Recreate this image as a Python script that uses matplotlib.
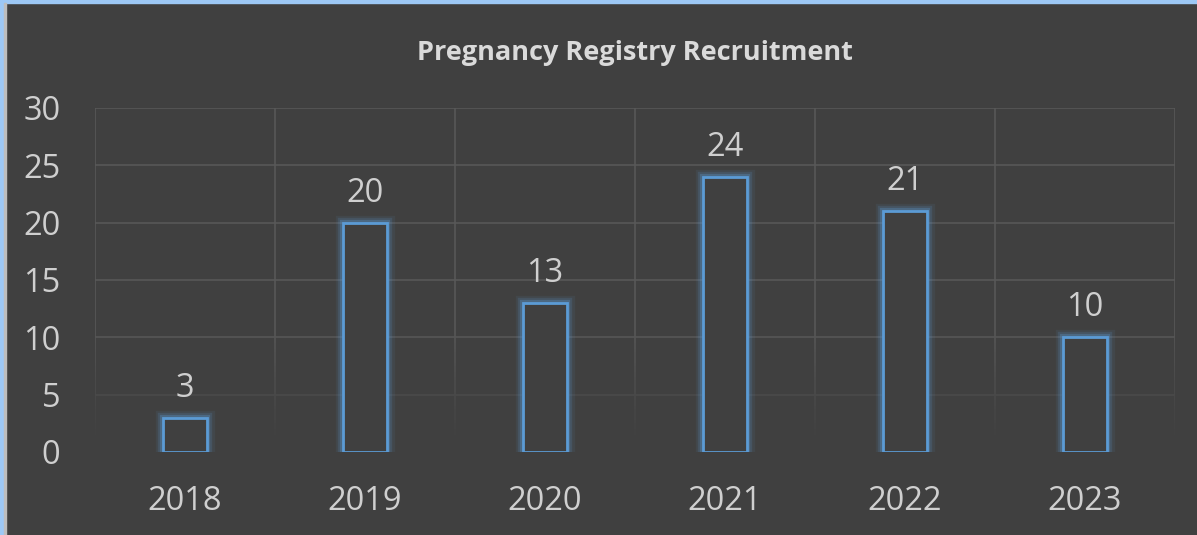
import numpy as np
import matplotlib.pyplot as plt
import matplotlib.patheffects as pe
from matplotlib.patches import Rectangle
from matplotlib.colors import to_rgba

years = ['2018', '2019', '2020', '2021', '2022', '2023']
recruits = [3, 20, 13, 24, 21, 10]
yticks = [0, 5, 10, 15, 20, 25, 30]

bg = '#404040'
blue = '#5b9bd5'
txt = '#cfcfcf'
gridc = '#585858'

plt.rcParams['font.family'] = ['Open Sans', 'DejaVu Sans']

W, H = 1197, 535
fig = plt.figure(figsize=(W / 100, H / 100), dpi=100, facecolor=bg)
ax = fig.add_axes([95 / W, (H - 452) / H, (1175 - 95) / W, (452 - 108) / H])
ax.set_facecolor(bg)

x = range(len(years))
bars = ax.bar(x, recruits, width=0.245, color=bg, edgecolor=blue, linewidth=2, zorder=3)
glow = [pe.Stroke(linewidth=11, foreground=blue, alpha=0.08),
        pe.Stroke(linewidth=7.5, foreground=blue, alpha=0.16),
        pe.Stroke(linewidth=4.5, foreground=blue, alpha=0.3),
        pe.Normal()]
for b in bars:
    b.set_path_effects(glow)

for i, v in enumerate(recruits):
    ax.annotate(str(v), (i, v), xytext=(0, 15), textcoords='offset points',
                ha='center', va='baseline', color=txt, fontsize=23.5)

ax.set_xlim(-0.5, len(years) - 0.5)
ax.set_ylim(0, 30)
ax.set_yticks(yticks)
ax.set_xticks(list(x))
ax.set_xticklabels(years)
ax.tick_params(axis='both', length=0, labelcolor=txt, labelsize=23.5)
ax.tick_params(axis='y', pad=25)
ax.tick_params(axis='x', pad=24)

# gridlines fade out towards the bottom
base = np.array(to_rgba(gridc))
bgc = np.array(to_rgba(bg))
def fade(yv):
    t = min(1.0, max(0.0, (yv - 1.0) / 10.0))
    return tuple(bgc + (base - bgc) * t)

for yv in yticks[1:]:
    ax.axhline(yv, color=fade(yv), lw=1.2, zorder=1)
edges = [i - 0.5 for i in range(len(years) + 1)]
steps = np.linspace(0, 12, 49)
for xv in edges:
    ax.vlines([xv] * (len(steps) - 1), steps[:-1], steps[1:],
              colors=[fade((a + b) / 2) for a, b in zip(steps[:-1], steps[1:])],
              lw=1.2, zorder=1)
    ax.vlines(xv, 12, 30, colors=gridc, lw=1.2, zorder=1)
for s in ax.spines.values():
    s.set_visible(False)

fig.suptitle('Pregnancy Registry Recruitment', x=635 / W, y=1 - 40 / H, va='top',
             color='#dadada', fontsize=19.5, fontweight='bold')

# light blue frame on top and left
fig.patches.append(Rectangle((0, 1 - 3 / H), 1, 3 / H, transform=fig.transFigure,
                             color='#9dc8f5', zorder=10))
fig.patches.append(Rectangle((0, 0), 4 / W, 1, transform=fig.transFigure,
                             color='#9dc8f5', zorder=10))
fig.patches.append(Rectangle((4 / W, 0), 1.5 / W, 1 - 3 / H, transform=fig.transFigure,
                             color='#bdbdbd', zorder=10))

fig.savefig('out.png', dpi=100, facecolor=bg)
